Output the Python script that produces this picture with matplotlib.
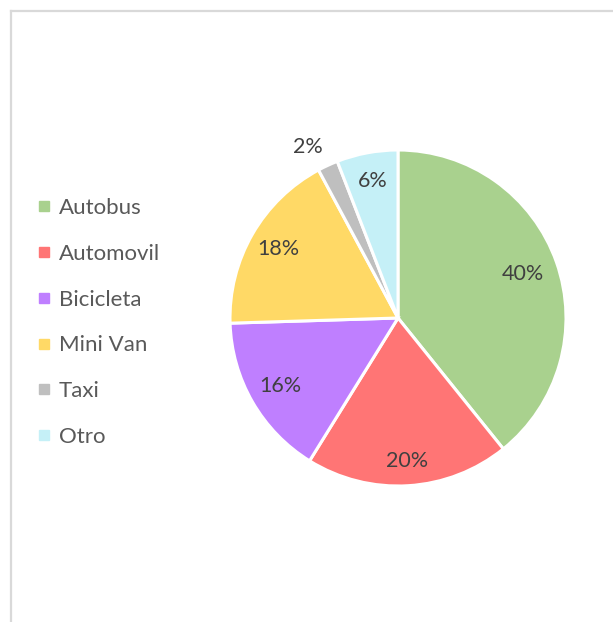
import matplotlib
matplotlib.use("Agg")
import matplotlib.pyplot as plt
from matplotlib.lines import Line2D
import numpy as np

categories = ["Autobus", "Automovil", "Bicicleta", "Mini Van", "Taxi", "Otro"]
values = [40, 20, 16, 18, 2, 6]
colors = ["#A9D18E", "#FF7575", "#BF7FFF", "#FFD966", "#BFBFBF", "#C5F0F7"]
label_dist = [0.79, 0.85, 0.81, 0.82, 1.15, 0.83]

plt.rcParams['font.family'] = ['Lato', 'DejaVu Sans']
W, H = 613, 622
fig = plt.figure(figsize=(W / 100, H / 100), dpi=100)

# chart frame (only top/left visible)
fig.add_artist(Line2D([11 / W, 11 / W], [0, 1 - 11 / H], color="#D9D9D9", lw=1.6))
fig.add_artist(Line2D([11 / W, 1], [1 - 11 / H, 1 - 11 / H], color="#D9D9D9", lw=1.6))

cx, cy, r = 398, 318, 168
ax = fig.add_axes([(cx - r) / W, (H - cy - r) / H, 2 * r / W, 2 * r / H])
wedges, _ = ax.pie(values, colors=colors, startangle=90, counterclock=False,
                   radius=1, wedgeprops=dict(edgecolor="white", linewidth=2.2))
ax.set_xlim(-1, 1)
ax.set_ylim(-1, 1)
ax.set_aspect("equal")
ax.axis("off")

for w, v, d in zip(wedges, values, label_dist):
    ang = np.deg2rad((w.theta1 + w.theta2) / 2)
    if v == 2:
        ang += np.deg2rad(3)
    ax.text(d * np.cos(ang), d * np.sin(ang), f"{v}%", ha="center", va="center",
            fontsize=15.5, color="#404040")

handles = [Line2D([], [], marker="s", linestyle="none", markersize=7,
                  markerfacecolor=c, markeredgecolor=c) for c in colors]
fig.legend(handles, categories, loc="upper left", bbox_to_anchor=(38 / W, 1 - 198 / H),
           frameon=False, fontsize=16, labelcolor="#595959", handlelength=0.55,
           handletextpad=0.4, labelspacing=1.16, borderaxespad=0, borderpad=0)

fig.savefig("out.png", dpi=100, facecolor="white")
